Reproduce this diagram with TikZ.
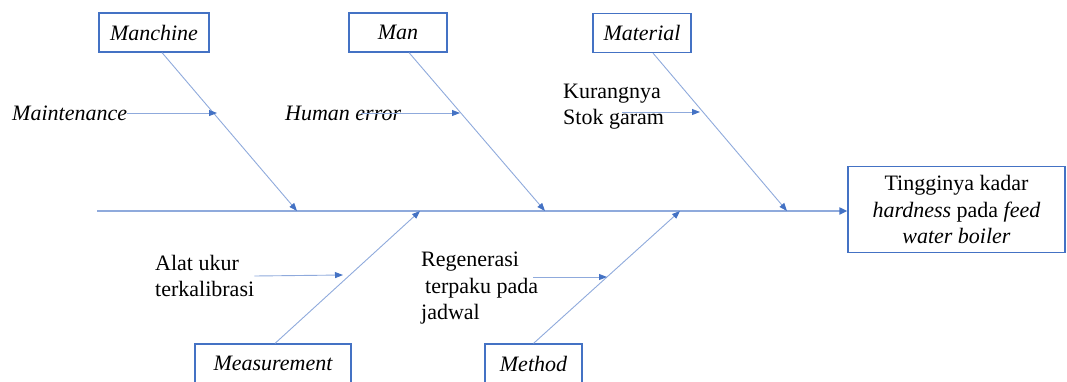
\documentclass[tikz,border=0pt]{standalone}
\usepackage{fontspec}
\setmainfont{Liberation Serif}
\usepackage{xcolor}
\usetikzlibrary{arrows.meta}
\usetikzlibrary{calc}

\definecolor{boneblue}{RGB}{143,170,220}
\definecolor{tipblue}{RGB}{68,114,196}
\newcommand{\fishfont}{\fontsize{22}{26.5}\selectfont}

\begin{document}
\fishfont
\begin{tikzpicture}[x=1pt, y=-1pt,
    cat/.style={draw=tipblue, line width=1.2pt, minimum height=39pt, inner sep=0pt, font=\itshape},
    cause/.style={inner sep=0pt, align=left, anchor=west},
    bone/.style={draw=boneblue, line width=0.9pt, -{Triangle[length=8pt, width=6pt, color=tipblue]}},
    spine/.style={draw=boneblue, line width=1.8pt, -{Triangle[length=8pt, width=7pt, color=tipblue]}}]
      \useasboundingbox (0,0) rectangle (1067,381);

      \node[cat, minimum width=110pt] (mach) at (154,32.5) {Manchine};
      \node[cat, minimum width=98pt] (man) at (398,32.5) {Man};
      \node[cat, minimum width=98pt] (mat) at (642,33) {Material};
      \node[cat, minimum width=156pt] (meas) at (273,363.5) {Measurement};
      \node[cat, minimum width=97pt] (meth) at (533.5,363.5) {Method};
      \node[draw=tipblue, line width=1.2pt, minimum width=217pt, minimum height=86pt, align=center, inner sep=0pt] (eff) at (956.5,209.5)
        {Tingginya kadar\\\textit{hardness} pada \textit{feed}\\\textit{water boiler}};

      \coordinate (tail) at (97,211);
      \foreach \x [count=\j from 1] in {297, 420, 545, 680, 787}
        \coordinate (s\j) at (\x,211);

      \draw[spine] (tail) -- (tail -| eff.west);
      \draw[bone] ([xshift=8pt]mach.south) -- (s1);
      \draw[bone] ([xshift=11pt]man.south) -- (s3);
      \draw[bone] ([xshift=11pt]mat.south) -- (s5);
      \draw[bone] ([xshift=2pt]meas.north) -- (s2);
      \draw[bone] (meth.north) -- (s4);

      \node[cause, font=\itshape] (maint) at (12,113) {Maintenance};
      \node[cause, font=\itshape] (human) at (285,113) {Human error};
      \node[cause] (stok) at (563,106.5) {Kurangnya\\Stok garam};
      \node[cause] (alat) at (155,276) {Alat ukur\\terkalibrasi};
      \node[cause] (regen) at (421,288.5) {Regenerasi\\\hspace*{4pt}terpaku pada\\jadwal};

      \coordinate (m1) at (217,113);
      \coordinate (h1) at (460,113);
      \coordinate (k1) at (700,112);
      \coordinate (a1) at (343,275);
      \coordinate (r1) at (607,277);

      \draw[bone] (maint.east) -- (m1);
      \draw[bone] ([xshift=-40pt]human.east) -- (h1);
      \draw[bone] ([shift={(-42,5.5)}]stok.east) -- (k1);
      \draw[bone] (alat.east) -- (a1);
      \draw[bone] ([shift={(-5,-11.5)}]regen.east) -- (r1);
    \end{tikzpicture}
\end{document}
